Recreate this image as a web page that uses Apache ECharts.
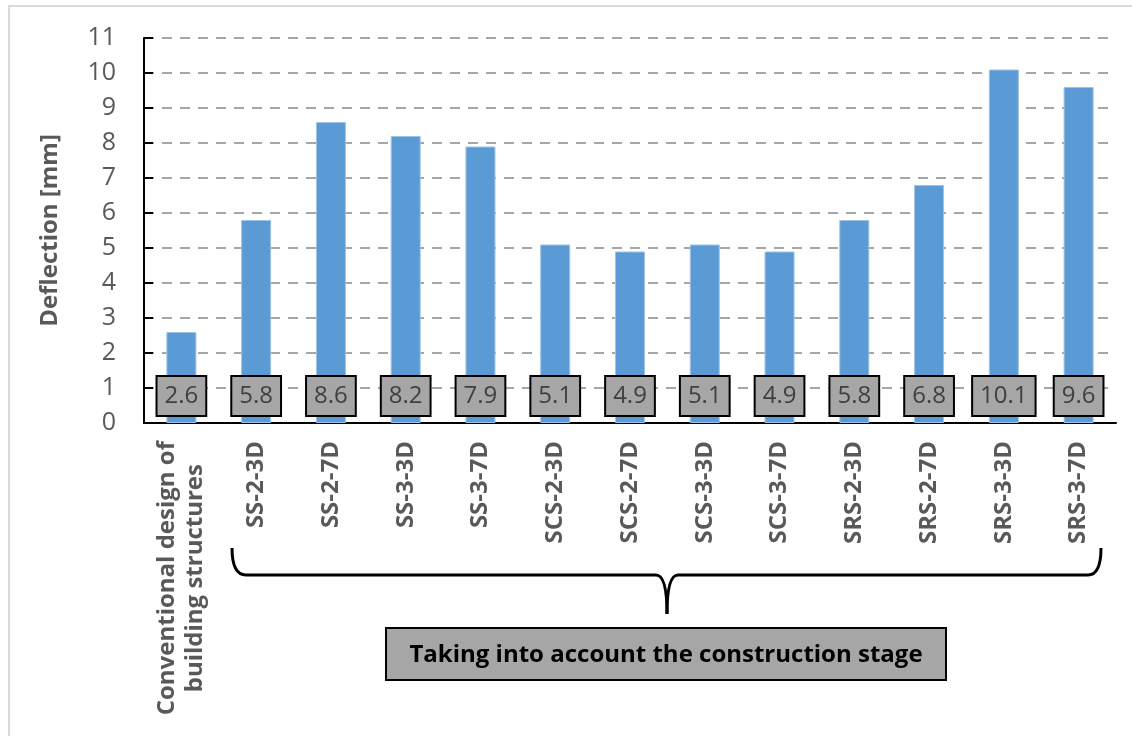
<!DOCTYPE html>
<html>
<head>
<meta charset="utf-8">
<script src="https://cdn.jsdelivr.net/npm/echarts@6/dist/echarts.min.js"></script>
<style>
html,body{margin:0;padding:0;background:#fff;}
#chart{width:1132px;height:736px;}
</style>
</head>
<body>
<div id="chart"></div>
<script>
const categories = ['Conventional design of\nbuilding structures','SS-2-3D','SS-2-7D','SS-3-3D','SS-3-7D','SCS-2-3D','SCS-2-7D','SCS-3-3D','SCS-3-7D','SRS-2-3D','SRS-2-7D','SRS-3-3D','SRS-3-7D'];
const deflection = [2.6, 5.8, 8.6, 8.2, 7.9, 5.1, 4.9, 5.1, 4.9, 5.8, 6.8, 10.1, 9.6];
const yTicks = [0,1,2,3,4,5,6,7,8,9,10,11];
const yAxisTitle = 'Deflection [mm]';
const groupTitle = 'Taking into account the construction stage';

const FONT = '"Open Sans", "Liberation Sans", sans-serif';
const chart = echarts.init(document.getElementById('chart'));
const bs = { stroke: '#000', lineWidth: 3, fill: 'none' };
chart.setOption({
  animation: false,
  backgroundColor: '#fff',
  grid: { left: 144, right: 16, top: 38, bottom: 313, containLabel: false },
  xAxis: {
    type: 'category',
    data: categories,
    axisLine: { lineStyle: { color: '#000', width: 2 } },
    axisTick: { show: false },
    axisLabel: {
      interval: 0, rotate: 90, margin: 18,
      fontFamily: FONT, fontSize: 24, fontWeight: 'bold', color: '#595959',
      formatter: function (v) { return v.split('\n').map(s => '{c|' + s + '}').join('\n'); },
      rich: { c: { align: 'center', fontFamily: FONT, fontSize: 24, fontWeight: 'bold', color: '#595959', lineHeight: 28 } }
    }
  },
  yAxis: {
    type: 'value', min: yTicks[0], max: yTicks[yTicks.length - 1], interval: 1,
    name: yAxisTitle, nameLocation: 'middle', nameGap: 82,
    nameTextStyle: { fontFamily: FONT, fontSize: 24, fontWeight: 'bold', color: '#595959' },
    axisLine: { show: true, lineStyle: { color: '#000', width: 2 } },
    axisTick: { show: true, inside: true, length: 9, lineStyle: { color: '#000', width: 2 } },
    axisLabel: { margin: 28, fontFamily: FONT, fontSize: 25, color: '#595959' },
    splitLine: { show: true, lineStyle: { color: '#a6a6a6', width: 2, type: [10, 8] } }
  },
  series: [{
    type: 'bar',
    data: deflection,
    barWidth: 30,
    itemStyle: { color: '#5b9bd5', borderColor: '#9dc3e6', borderWidth: 1 },
    label: {
      show: true, position: 'insideBottom', distance: 8,
      fontFamily: FONT, fontSize: 24, color: '#404040', lineHeight: 26,
      backgroundColor: '#a6a6a6', borderColor: '#000', borderWidth: 2,
      padding: [6, 7], formatter: p => p.value.toFixed(1)
    }
  }],
  graphic: [
    { type: 'rect', shape: { x: 9, y: 6, width: 1200, height: 800 }, style: { fill: 'none', stroke: '#d9d9d9', lineWidth: 2 }, silent: true, z: -1 },
    { type: 'bezierCurve', shape: { x1: 232, y1: 548, x2: 246, y2: 575, cpx1: 232, cpy1: 575 }, style: bs },
    { type: 'line', shape: { x1: 246, y1: 575, x2: 656, y2: 575 }, style: bs },
    { type: 'bezierCurve', shape: { x1: 656, y1: 575, x2: 667, y2: 614, cpx1: 667, cpy1: 575 }, style: bs },
    { type: 'bezierCurve', shape: { x1: 667, y1: 614, x2: 678, y2: 575, cpx1: 667, cpy1: 575 }, style: bs },
    { type: 'line', shape: { x1: 678, y1: 575, x2: 1088, y2: 575 }, style: bs },
    { type: 'bezierCurve', shape: { x1: 1088, y1: 575, x2: 1101, y2: 548, cpx1: 1101, cpy1: 575 }, style: bs },
    { type: 'rect', shape: { x: 386, y: 628, width: 560, height: 52 }, style: { fill: '#a6a6a6', stroke: '#000', lineWidth: 2 } },
    { type: 'text', x: 666, y: 655, style: { text: groupTitle, fontFamily: FONT, fontSize: 24, fontWeight: 'bold', fill: '#000', align: 'center', verticalAlign: 'middle' } }
  ]
});
</script>
</body>
</html>
